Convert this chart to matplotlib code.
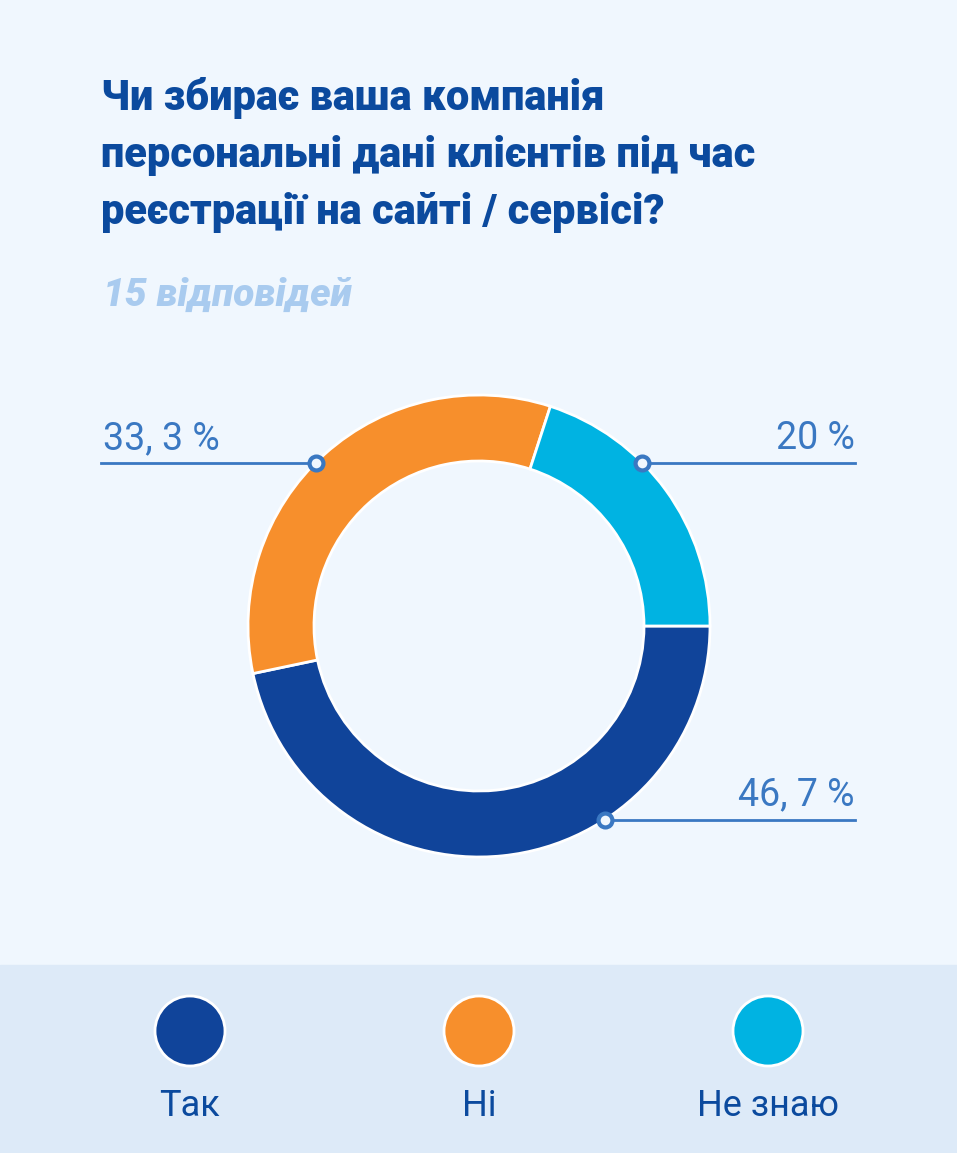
import matplotlib.pyplot as plt
import numpy as np

W, H = 957, 1153

# data
categories = ["Так", "Ні", "Не знаю"]
values = [46.7, 33.3, 20.0]
value_labels = ["46, 7 %", "33, 3 %", "20 %"]
colors = ["#10449A", "#F78F2C", "#00B3E2"]

title_lines = ["Чи збирає ваша компанія",
               "персональні дані клієнтів під час",
               "реєстрації на сайті / сервісі?"]
subtitle = "15 відповідей"

BG = "#F0F7FE"
BAND = "#DDEAF8"
DARK = "#0B4A9E"
LABEL = "#3A78C2"

plt.rcParams['font.family'] = ['Roboto', 'DejaVu Sans']

fig = plt.figure(figsize=(W / 100, H / 100), dpi=100)
fig.patch.set_facecolor(BG)
ax = fig.add_axes([0, 0, 1, 1])


def py(y):
    # pixel y (from top) -> axes y
    return H - y


# donut
cx, cy, R, ring = 479, 626, 231, 66
wedges, _ = ax.pie(values, colors=colors, radius=R, center=(cx, py(cy)),
                   startangle=0, counterclock=False,
                   wedgeprops=dict(width=ring, edgecolor="white", linewidth=2))

# callouts: (angle on outer edge, line end x, text align, text baseline)
callouts = [(-57, 855, "right", 805), (135, 101, "left", 449), (45, 855, "right", 449)]
for (ang, xend, ha, ty), lab in zip(callouts, value_labels):
    mx = cx + R * np.cos(np.radians(ang))
    my = py(cy) + R * np.sin(np.radians(ang))
    ax.plot([mx, xend], [my, my], color=LABEL, lw=2, zorder=3)
    ax.scatter([mx], [my], s=100, facecolor=BG, edgecolor=LABEL, linewidth=3, zorder=4)
    tx = xend + 2 if ha == "left" else xend
    ax.text(tx, py(ty), lab, ha=ha, va="baseline", fontsize=27, color=LABEL,
            fontweight="normal")

# title / subtitle
for i, line in enumerate(title_lines):
    ax.text(101, py(110 + 57 * i), line, ha="left", va="baseline", fontsize=30,
            fontweight="black", color=DARK)
ax.text(103, py(306), subtitle, ha="left", va="baseline", fontsize=28,
        fontweight="black", fontstyle="italic", color="#A9CBEF")

# legend band
ax.add_patch(plt.Rectangle((0, 0), W, py(965), color=BAND, zorder=0))
leg_x = [190, 479, 768]
for x, c, name in zip(leg_x, colors, categories):
    ax.add_patch(plt.Circle((x, py(1031)), 35, facecolor=c, edgecolor="white",
                            linewidth=2, zorder=2))
    ax.text(x, py(1116), name, ha="center", va="baseline", fontsize=26, color=DARK)

ax.set_xlim(0, W)
ax.set_ylim(0, H)
ax.set_aspect("auto")
ax.axis("off")

fig.savefig("out.png", dpi=100, facecolor=BG)
